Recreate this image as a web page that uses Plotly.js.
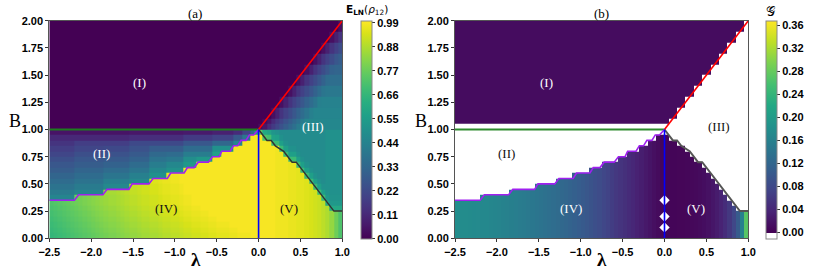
<!DOCTYPE html>
<html><head><meta charset="utf-8">
<script src="https://cdn.plot.ly/plotly-3.0.1.min.js"></script>
<style>html,body{margin:0;padding:0;background:#fff}#chart{width:830px;height:277px}</style>
</head><body><div id="chart"></div>
<script>
// ---- grid edges (lambda columns, B rows) ----
const lamEdges = [-2.5,-2.45,-2.4,-2.35,-2.3,-2.25,-2.2,-2.15,-2.1,-2.05,-2.0,-1.95,-1.9,-1.85,-1.8,-1.75,-1.7,-1.65,-1.6,-1.55,-1.5,-1.45,-1.4,-1.35,-1.3,-1.25,-1.2,-1.15,-1.1,-1.05,-1.0,-0.95,-0.9,-0.85,-0.8,-0.75,-0.7,-0.65,-0.6,-0.55,-0.5,-0.45,-0.4,-0.35,-0.3,-0.25,-0.2,-0.15,-0.1,-0.05,0,0.05,0.1,0.15,0.2,0.25,0.3,0.35,0.4,0.45,0.5,0.55,0.6,0.65,0.7,0.75,0.8,0.85,0.9,0.95,1.0];
const bEdges = [0,0.05,0.1,0.15,0.2,0.25,0.3,0.35,0.4,0.45,0.5,0.55,0.6,0.65,0.7,0.75,0.8,0.85,0.9,0.95,1.0,1.05,1.1,1.2,1.3,1.4,1.5,1.6,1.7,1.8,1.9,2.0];

// ---- ticks and tick labels ----
const lamTicks = [-2.5,-2.0,-1.5,-1.0,-0.5,0.0,0.5,1.0];
const lamTickText = ['\u22122.5','\u22122.0','\u22121.5','\u22121.0','\u22120.5','0.0','0.5','1.0'];
const bTicks = [0,0.25,0.5,0.75,1.0,1.25,1.5,1.75,2.0];
const bTickText = ['0.00','0.25','0.50','0.75','1.00','1.25','1.50','1.75','2.00'];
const eTicks = [0,0.11,0.22,0.33,0.44,0.55,0.66,0.77,0.88,0.99];
const eTickText = ['0.00','0.11','0.22','0.33','0.44','0.55','0.66','0.77','0.88','0.99'];
const gTicks = [0,0.04,0.08,0.12,0.16,0.20,0.24,0.28,0.32,0.36];
const gTickText = ['0.00','0.04','0.08','0.12','0.16','0.20','0.24','0.28','0.32','0.36'];

// ---- panel (a): E_LN(rho12), in percent, one row per B band (bottom to top) ----
const eLNpct = [
[66,67,68,69,70,71,72,73,74,75, 76,77,78,79,80,80,81,82,83,84, 84,85,86,86,87,87,88,89,89,90, 90,91,92,92,93,93,94,94,95,95, 96,96,96,97,97,98,98,98,99,99, 99,99,99,99,98,98,98,97,97,96, 96,95,94,93,92,90,88,84,78,72],
[67,68,69,70,71,72,73,74,75,76, 77,78,79,80,81,81,82,83,84,85, 85,86,87,87,88,88,89,90,90,91, 91,92,93,93,94,94,95,95,96,96, 97,97,97,98,98,99,99,99,99,99, 99,99,99,99,98,98,98,97,97,96, 96,95,94,93,92,90,88,84,78,72],
[68,69,70,71,72,73,74,75,76,77, 78,79,80,81,82,82,83,84,85,86, 86,87,88,88,89,89,90,91,91,92, 92,93,94,94,95,95,96,96,97,97, 98,98,98,99,99,99,99,99,99,99, 99,99,99,99,98,98,98,97,97,96, 96,95,94,93,92,90,88,84,78,72],
[69,70,71,72,73,74,75,76,77,78, 79,80,81,82,83,83,84,85,86,87, 87,88,89,89,90,90,91,92,92,93, 93,94,95,95,96,96,97,97,98,98, 99,99,99,99,99,99,99,99,99,99, 99,99,99,99,98,98,98,97,97,96, 96,95,94,93,92,90,88,84,78,72],
[70,71,72,73,74,75,76,77,78,79, 80,81,82,83,84,84,85,86,87,88, 88,89,90,90,91,91,92,93,93,94, 94,95,96,96,97,97,98,98,99,99, 99,99,99,99,99,99,99,99,99,99, 99,99,99,99,98,98,98,97,97,96, 96,95,94,93,92,90,88,84,78,72],
[71,72,73,74,75,76,77,78,79,80, 81,82,83,84,85,85,86,87,88,89, 89,90,91,91,92,92,93,94,94,95, 95,96,97,97,98,98,99,99,99,99, 99,99,99,99,99,99,99,99,99,99, 99,99,99,99,98,98,98,97,97,96, 96,95,94,93,92,90,88,60,60,60],
[72,73,74,75,76,77,78,79,80,81, 82,83,84,85,86,86,87,88,89,90, 90,91,92,92,93,93,94,95,95,96, 96,97,98,98,99,99,99,99,99,99, 99,99,99,99,99,99,99,99,99,99, 99,99,99,99,98,98,98,97,97,96, 96,95,94,93,92,90,60,53,53,53],
[45,45,45,45,45,45,78,79,80,81, 82,83,84,85,86,86,87,88,89,90, 90,91,92,92,93,93,94,95,95,96, 96,97,98,98,99,99,99,99,99,99, 99,99,99,99,99,99,99,99,99,99, 99,99,99,99,98,98,98,97,97,96, 96,95,94,93,92,68,53,51,51,51],
[41,41,41,41,41,41,45,45,45,45, 45,45,45,86,87,87,88,89,90,91, 91,92,93,93,94,94,95,96,96,97, 97,98,99,99,99,99,99,99,99,99, 99,99,99,99,99,99,99,99,99,99, 99,99,99,99,98,98,98,97,97,96, 96,95,94,93,68,56,51,50,50,50],
[38,38,38,38,38,38,41,41,41,41, 41,41,41,47,47,47,47,47,47,91, 91,92,93,93,94,94,95,96,96,97, 97,98,99,99,99,99,99,99,99,99, 99,99,99,99,99,99,99,99,99,99, 99,99,99,99,98,98,98,97,97,96, 96,95,94,68,56,50,50,50,50,50],
[35,35,35,35,35,35,38,38,38,38, 38,38,38,43,43,43,43,43,43,47, 47,47,47,47,95,95,96,97,97,98, 98,99,99,99,99,99,99,99,99,99, 99,99,99,99,99,99,99,99,99,99, 99,99,99,99,98,98,98,97,97,96, 96,95,68,56,50,48,50,50,50,50],
[32,32,32,32,32,32,35,35,35,35, 35,35,35,39,39,39,39,39,39,43, 43,43,43,43,50,50,50,50,97,98, 98,99,99,99,99,99,99,99,99,99, 99,99,99,99,99,99,99,99,99,99, 99,99,99,99,98,98,98,97,97,96, 96,68,56,50,48,48,50,50,50,50],
[29,29,29,29,29,29,32,32,32,32, 32,32,32,35,35,35,35,35,35,39, 39,39,39,39,46,46,46,46,50,50, 50,50,99,99,99,99,99,99,99,99, 99,99,99,99,99,99,99,99,99,99, 99,99,99,99,98,98,98,97,97,96, 68,56,50,48,48,48,50,50,50,50],
[27,27,27,27,27,27,29,29,29,29, 29,29,29,31,31,31,31,31,31,35, 35,35,35,35,42,42,42,42,46,46, 46,46,53,53,53,99,99,99,99,99, 99,99,99,99,99,99,99,99,99,99, 99,99,99,99,98,98,98,97,97,68, 56,50,48,48,48,48,50,50,50,50],
[24,24,24,24,24,24,27,27,27,27, 27,27,27,28,28,28,28,28,28,31, 31,31,31,31,38,38,38,38,40,40, 40,40,49,49,49,53,53,53,53,99, 99,99,99,99,99,99,99,99,99,99, 99,99,99,99,98,98,98,68,68,56, 50,48,48,48,48,48,50,50,50,50],
[21,21,21,21,21,21,24,24,24,24, 24,24,24,25,25,25,25,25,25,28, 28,28,28,28,34,34,34,34,35,35, 35,35,42,42,42,42,42,42,42,57, 57,99,99,99,99,99,99,99,99,99, 99,99,99,99,98,98,68,56,56,50, 48,48,48,48,48,48,50,50,50,50],
[18,18,18,18,18,18,21,21,21,21, 21,21,21,22,22,22,22,22,22,25, 25,25,25,25,29,29,29,29,29,29, 29,29,35,35,35,35,35,35,35,50, 50,50,50,50,99,99,99,99,99,99, 99,99,99,99,98,68,56,50,50,48, 48,48,48,48,48,48,50,50,50,50],
[15,15,15,15,15,15,18,18,18,18, 18,18,18,18,18,18,18,18,18,22, 22,22,22,22,22,22,22,22,22,22, 22,22,27,27,27,27,27,27,27,33, 33,33,33,33,45,45,99,99,99,99, 99,99,99,68,68,56,50,48,48,48, 48,48,48,48,48,48,50,50,50,50],
[11,11,11,11,11,11,11,11,11,11, 11,11,11,11,11,11,11,11,11,13, 13,13,13,13,13,13,13,13,13,13, 13,13,17,17,17,17,17,17,17,20, 20,20,20,20,28,28,40,40,99,99, 99,72,70,57,56,50,48,48,48,48, 48,48,48,48,48,48,50,50,50,50],
[5,5,5,5,5,5,5,5,5,5, 5,5,5,5,5,5,5,5,5,6, 6,6,6,6,6,6,6,6,6,6, 6,6,7,7,7,7,7,7,7,9, 9,9,9,9,12,12,20,20,35,55, 75,60,58,52,50,48,48,48,48,48, 48,48,48,48,48,48,50,50,50,50],
[0,0,0,0,0,0,0,0,0,0, 0,0,0,0,0,0,0,0,0,0, 0,0,0,0,0,0,0,0,0,0, 0,0,0,0,0,0,0,0,0,0, 0,0,0,0,0,0,0,0,0,0, 3,6,12,17,21,25,29,33,37,41, 45,46,46,46,46,46,46,46,46,46],
[0,0,0,0,0,0,0,0,0,0, 0,0,0,0,0,0,0,0,0,0, 0,0,0,0,0,0,0,0,0,0, 0,0,0,0,0,0,0,0,0,0, 0,0,0,0,0,0,0,0,0,0, 0,3,6,12,17,21,25,29,33,37, 41,45,46,46,46,46,46,46,46,46],
[0,0,0,0,0,0,0,0,0,0, 0,0,0,0,0,0,0,0,0,0, 0,0,0,0,0,0,0,0,0,0, 0,0,0,0,0,0,0,0,0,0, 0,0,0,0,0,0,0,0,0,0, 0,0,0,4,9,15,19,23,27,31, 35,39,43,45,45,45,45,45,45,45],
[0,0,0,0,0,0,0,0,0,0, 0,0,0,0,0,0,0,0,0,0, 0,0,0,0,0,0,0,0,0,0, 0,0,0,0,0,0,0,0,0,0, 0,0,0,0,0,0,0,0,0,0, 0,0,0,0,0,4,9,15,19,23, 27,31,35,39,43,44,44,44,44,44],
[0,0,0,0,0,0,0,0,0,0, 0,0,0,0,0,0,0,0,0,0, 0,0,0,0,0,0,0,0,0,0, 0,0,0,0,0,0,0,0,0,0, 0,0,0,0,0,0,0,0,0,0, 0,0,0,0,0,0,0,4,9,15, 19,23,27,31,35,39,40,40,40,40],
[0,0,0,0,0,0,0,0,0,0, 0,0,0,0,0,0,0,0,0,0, 0,0,0,0,0,0,0,0,0,0, 0,0,0,0,0,0,0,0,0,0, 0,0,0,0,0,0,0,0,0,0, 0,0,0,0,0,0,0,0,0,4, 9,15,19,23,27,31,35,36,36,36],
[0,0,0,0,0,0,0,0,0,0, 0,0,0,0,0,0,0,0,0,0, 0,0,0,0,0,0,0,0,0,0, 0,0,0,0,0,0,0,0,0,0, 0,0,0,0,0,0,0,0,0,0, 0,0,0,0,0,0,0,0,0,0, 0,4,9,15,19,23,27,31,32,32],
[0,0,0,0,0,0,0,0,0,0, 0,0,0,0,0,0,0,0,0,0, 0,0,0,0,0,0,0,0,0,0, 0,0,0,0,0,0,0,0,0,0, 0,0,0,0,0,0,0,0,0,0, 0,0,0,0,0,0,0,0,0,0, 0,0,0,4,9,15,19,23,27,29],
[0,0,0,0,0,0,0,0,0,0, 0,0,0,0,0,0,0,0,0,0, 0,0,0,0,0,0,0,0,0,0, 0,0,0,0,0,0,0,0,0,0, 0,0,0,0,0,0,0,0,0,0, 0,0,0,0,0,0,0,0,0,0, 0,0,0,0,0,4,9,15,19,23],
[0,0,0,0,0,0,0,0,0,0, 0,0,0,0,0,0,0,0,0,0, 0,0,0,0,0,0,0,0,0,0, 0,0,0,0,0,0,0,0,0,0, 0,0,0,0,0,0,0,0,0,0, 0,0,0,0,0,0,0,0,0,0, 0,0,0,0,0,0,0,4,9,15],
[0,0,0,0,0,0,0,0,0,0, 0,0,0,0,0,0,0,0,0,0, 0,0,0,0,0,0,0,0,0,0, 0,0,0,0,0,0,0,0,0,0, 0,0,0,0,0,0,0,0,0,0, 0,0,0,0,0,0,0,0,0,0, 0,0,0,0,0,0,0,0,0,4]
];

// ---- panel (b): G per lambda column in regions IV/V ----
const gCol = [0.178,0.177,0.176,0.175,0.174,0.173,0.171,0.170,0.168,0.166, 0.164,0.162,0.160,0.158,0.156,0.153,0.151,0.149,0.146,0.143, 0.140,0.137,0.134,0.131,0.128,0.124,0.120,0.116,0.112,0.108, 0.104,0.099,0.094,0.089,0.084,0.078,0.072,0.066,0.060,0.055, 0.050,0.045,0.040,0.035,0.030,0.025,0.020,0.015,0.010,0.006, 0.004,0.004,0.004,0.005,0.005,0.006,0.007,0.008,0.010,0.013, 0.017,0.022,0.028,0.036,0.046,0.060,0.078,0.105,0.160,0.270];
// top B of the coloured region IV/V per column
const gTop = [0.35,0.35,0.35,0.35,0.35,0.35,0.40,0.40,0.40,0.40, 0.40,0.40,0.40,0.45,0.45,0.45,0.45,0.45,0.45,0.50, 0.50,0.50,0.50,0.50,0.55,0.55,0.55,0.55,0.60,0.60, 0.60,0.60,0.65,0.65,0.65,0.70,0.70,0.70,0.70,0.75, 0.75,0.80,0.80,0.80,0.85,0.85,0.90,0.90,0.95,0.95, 0.95,0.90,0.90,0.85,0.85,0.80,0.75,0.70,0.70,0.65, 0.60,0.55,0.50,0.45,0.40,0.35,0.30,0.25,0.25,0.25];
// region (I) of panel (b): value, lower B, right lambda limit per upper row
const gRegionI = 0.012;
const gRegionIBottom = 1.05;
const gRegionIRight = [0.075,0.15,0.25,0.35,0.45,0.55,0.65,0.75,0.85,0.95];

// ---- boundary lines ----
const purpleLam = [-2.5,-2.2,-2.15,-1.86,-1.81,-1.55,-1.51,-1.31,-1.26,-1.09,-1.05,-0.89,-0.85,-0.77,-0.72,-0.6,-0.55,-0.47,-0.44,-0.34,-0.3,-0.25,-0.21,-0.15,-0.11,-0.06,0];
const purpleB   = [0.35,0.35,0.40,0.40,0.45,0.45,0.50,0.50,0.55,0.55,0.60,0.60,0.65,0.65,0.70,0.70,0.75,0.75,0.80,0.80,0.85,0.85,0.90,0.90,0.95,0.95,1.0];
const blackLam = [0,0.1,0.15,0.2,0.3,0.4,0.45,0.9,1.0];
const blackB   = [1.0,0.9,0.9,0.85,0.8,0.7,0.7,0.25,0.25];
const greenLam = [-2.5,0]; const greenB = [1.0,1.0];
const redLam = [0,1.0]; const redB = [1.0,2.0];
const blueLam = [0,0]; const blueB = [0,1.0];
const diamondLam = [0,0,0]; const diamondB = [0.1,0.2,0.35];

// ---- build grids ----
const lamC = lamEdges.slice(0,-1).map((v,i)=>(v+lamEdges[i+1])/2);
const bC = bEdges.slice(0,-1).map((v,i)=>(v+bEdges[i+1])/2);
const eZ = eLNpct.map(r=>r.map(v=>v/100));
const gZ = bC.map((b,r)=>lamC.map((l,c)=>{
  if (b < 1.0) return b < gTop[c] ? gCol[c] : null;
  if (b > gRegionIBottom) { const lim = gRegionIRight[r-21]; return l < lim ? gRegionI : null; }
  return null;
}));

const viridis = [[0,'#440154'],[0.1,'#482475'],[0.2,'#414487'],[0.3,'#355f8d'],[0.4,'#2a788e'],[0.5,'#21918c'],[0.6,'#22a884'],[0.7,'#44bf70'],[0.8,'#7ad151'],[0.9,'#bddf26'],[1,'#fde725']];
const gMin = -0.011, gMax = 0.3675;
const f0 = (0 - gMin)/(gMax - gMin);
const gScale = [[0,'#ffffff'],[f0,'#ffffff']].concat(viridis.map(s=>[f0 + s[0]*(1-f0), s[1]]));

const bold = a => a.map(s=>'<b>'+s+'</b>');
const tickFont = {family:'Liberation Sans, Arial, sans-serif', size:11, color:'#000'};
const serif = 'Liberation Serif, Times New Roman, serif';

function cb(x, ticks, text){
  return {x:x, xanchor:'left', xpad:0, y:0.9253, yanchor:'top', ypad:0, len:218, lenmode:'pixels',
    thickness:10.5, thicknessmode:'pixels', outlinewidth:1, outlinecolor:'#888',
    tickmode:'array', tickvals:ticks, ticktext:bold(text), ticks:'outside', ticklen:3, tickcolor:'#333', tickfont:tickFont};
}

const traces = [
  {type:'heatmap', x:lamEdges, y:bEdges, z:eZ, colorscale:'Viridis', zmin:0, zmax:1.0, hoverinfo:'skip', colorbar:cb(0.4346, eTicks, eTickText), xaxis:'x', yaxis:'y'},
  {type:'heatmap', x:lamEdges, y:bEdges, z:gZ, colorscale:gScale, zmin:gMin, zmax:gMax, hoverinfo:'skip', colorbar:cb(0.9229, gTicks, gTickText), xaxis:'x2', yaxis:'y2'},
];
function line(xa, ya, x, y, color, w){
  return {type:'scatter', mode:'lines', x:x, y:y, line:{color:color, width:w}, xaxis:xa, yaxis:ya, hoverinfo:'skip', showlegend:false};
}
traces.push(line('x','y',greenLam,greenB,'#1e7d1e',2));
traces.push(line('x','y',purpleLam,purpleB,'#a020f0',1.6));
traces.push(line('x','y',blackLam,blackB,'#333333',1.5));
traces.push(line('x','y',redLam,redB,'#ff0000',1.6));
traces.push(line('x','y',blueLam,blueB,'#0000ff',1.6));
traces.push(line('x2','y2',greenLam,greenB,'#2e8b2e',2));
traces.push(line('x2','y2',purpleLam,purpleB,'#a020f0',1.6));
traces.push(line('x2','y2',blackLam,blackB,'#555555',2));
traces.push(line('x2','y2',redLam,redB,'#ff0000',1.6));
traces.push({type:'scatter', mode:'markers', x:diamondLam, y:diamondB, xaxis:'x2', yaxis:'y2',
  marker:{symbol:'diamond', size:8, color:'#ffffff', line:{width:0}}, hoverinfo:'skip', showlegend:false});
traces.push(line('x2','y2',blueLam,blueB,'#0000ff',1.6));

const axX = {range:[-2.5,1.0], tickmode:'array', tickvals:lamTicks, ticktext:bold(lamTickText), ticks:'outside', ticklen:3, tickcolor:'#333',
  showline:true, mirror:true, linecolor:'#555', linewidth:1, showgrid:false, zeroline:false, tickfont:tickFont};
const axY = {range:[0,2.0], tickmode:'array', tickvals:bTicks, ticktext:bold(bTickText), ticks:'outside', ticklen:3, tickcolor:'#333',
  showline:true, mirror:true, linecolor:'#555', linewidth:1, showgrid:false, zeroline:false, tickfont:tickFont,
  domain:[0.1397,0.9253]};

function txt(x,y,t,color,xref,yref,size,extra){
  return Object.assign({x:x,y:y,xref:xref,yref:yref,text:t,showarrow:false,font:{family:serif,size:size,color:color},xanchor:'center',yanchor:'middle'}, extra||{});
}
const ann = [
  txt(0.2355,0.9495,'(a)','#000','paper','paper',13),
  txt(0.7247,0.9495,'(b)','#000','paper','paper',13),
  txt(14.5/830,1-121/277,'B','#000','paper','paper',18),
  txt(421/830,1-121/277,'B','#000','paper','paper',18),
  txt(196/830,1-259/277,'<b>λ</b>','#000','paper','paper',19),
  txt(602/830,1-259/277,'<b>λ</b>','#000','paper','paper',19),
  txt(-1.42,1.43,'(I)','#fff','x','y',13),
  txt(-1.88,0.775,'(II)','#fff','x','y',13),
  txt(0.654,1.026,'(III)','#fff','x','y',13),
  txt(-1.106,0.27,'(IV)','#111','x','y',13),
  txt(0.367,0.27,'(V)','#111','x','y',13),
  txt(-1.414,1.43,'(I)','#fff','x2','y2',13),
  txt(-1.88,0.775,'(II)','#111','x2','y2',13),
  txt(0.65,1.026,'(III)','#111','x2','y2',13),
  txt(-1.11,0.27,'(IV)','#fff','x2','y2',13),
  txt(0.37,0.27,'(V)','#fff','x2','y2',13),
  {x:366.5/830,y:1-10/277,xref:'paper',yref:'paper',showarrow:false,xanchor:'center',yanchor:'middle',
   text:'<b>E<sub>LN</sub></b>(<i>ρ</i><sub>12</sub>)',font:{family:'DejaVu Sans, sans-serif',size:10.5,color:'#000'}},
  {x:770.5/830,y:1-11/277,xref:'paper',yref:'paper',showarrow:false,xanchor:'center',yanchor:'middle',
   text:'𝒢',font:{family:'DejaVu Serif, serif',size:13,color:'#000'}}
];

const layout = {
  width:830, height:277, margin:{l:0,r:0,t:0,b:0}, paper_bgcolor:'#fff', plot_bgcolor:'#fff', showlegend:false,
  xaxis:Object.assign({}, axX, {domain:[49.3/830,342.3/830], anchor:'y'}),
  yaxis:Object.assign({}, axY, {anchor:'x'}),
  xaxis2:Object.assign({}, axX, {domain:[455/830,748.3/830], anchor:'y2'}),
  yaxis2:Object.assign({}, axY, {anchor:'x2'}),
  annotations:ann
};
Plotly.newPlot('chart', traces, layout, {staticPlot:true, displayModeBar:false});
</script></body></html>
